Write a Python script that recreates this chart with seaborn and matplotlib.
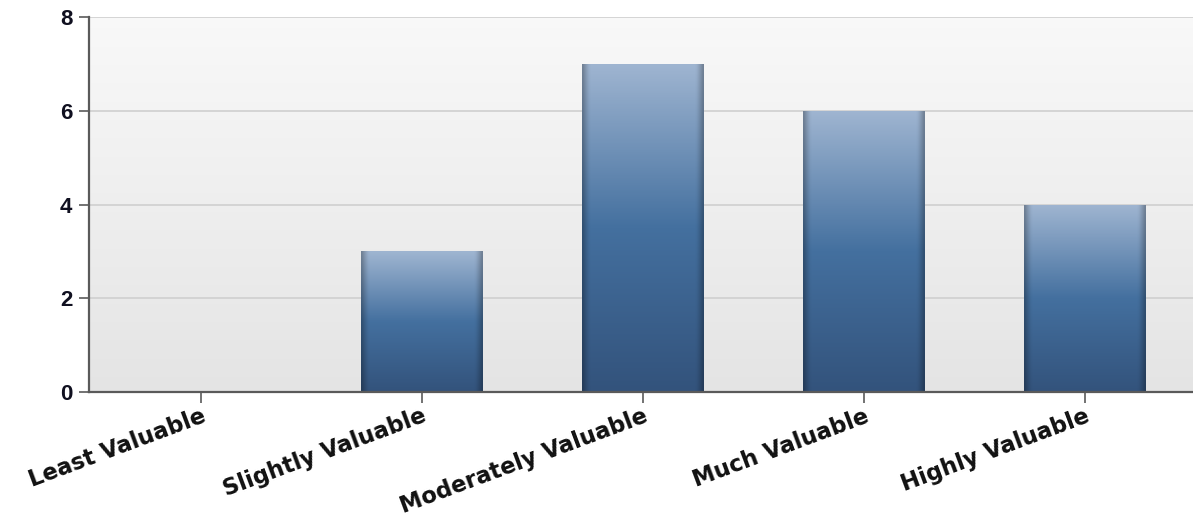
import numpy as np
import pandas as pd
import matplotlib
matplotlib.use("Agg")
import matplotlib.pyplot as plt
import seaborn as sns
from matplotlib.colors import LinearSegmentedColormap

categories = ["Least Valuable", "Slightly Valuable", "Moderately Valuable",
              "Much Valuable", "Highly Valuable"]
counts = [0, 3, 7, 6, 4]
y_ticks = [0, 2, 4, 6, 8]

sns.set_theme(style="white")
plt.rcParams["font.family"] = ["Liberation Sans", "DejaVu Sans"]

fig = plt.figure(figsize=(11.93, 5.25), dpi=100)
ax = fig.add_axes([0.0746, 0.2533, 0.9254, 0.7143])

df = pd.DataFrame({"category": categories, "count": counts})
sns.barplot(data=df, x="category", y="count", ax=ax, width=0.55,
            color="#3f6a9c", edgecolor="none", zorder=3)

# background: soft vertical gradient, light at the top
bg = np.linspace(0.975, 0.895, 256).reshape(-1, 1)
bg_rgb = np.dstack([bg, bg, bg])
ax.imshow(bg_rgb, extent=[0, 1, 0, 1], transform=ax.transAxes,
          aspect="auto", zorder=0, interpolation="bicubic")

# bar fill: vertical blue gradient with darker side edges
vcmap = LinearSegmentedColormap.from_list(
    "barv", [(0.0, "#9fb5d1"), (0.5, "#44709f"), (1.0, "#33537c")])
nh, nw = 200, 60
v = vcmap(np.linspace(0, 1, nh))[:, :3]
xs = np.linspace(-1, 1, nw)
edge = 1.0 - 0.28 * np.clip((np.abs(xs) - 0.88) / 0.12, 0, 1) ** 1.2
img = v[:, None, :] * edge[None, :, None]
for patch in ax.patches:
    x0, y0 = patch.get_x(), patch.get_y()
    w, h = patch.get_width(), patch.get_height()
    if h <= 0:
        continue
    im = ax.imshow(img, extent=[x0, x0 + w, y0, y0 + h], aspect="auto",
                   zorder=3, interpolation="bilinear")
    im.set_clip_path(patch)
    patch.set_facecolor("none")

ax.set_xlim(-0.505, 4.49)
ax.set_ylim(0, 8)

ax.set_yticks(y_ticks)
ax.yaxis.grid(True, color="#cfcfcf", linewidth=1.2, zorder=1)
ax.set_axisbelow(True)
for s in ["top", "right"]:
    ax.spines[s].set_visible(False)
for s in ["left", "bottom"]:
    ax.spines[s].set_color("#5a5a5a")
    ax.spines[s].set_linewidth(1.6)
    ax.spines[s].set_zorder(5)

ax.tick_params(axis="y", length=7, width=1.2, color="#5a5a5a", pad=5,
               labelsize=16, left=True)
ax.tick_params(axis="x", length=8, width=1.2, color="#5a5a5a", pad=1,
               bottom=True)
for lbl in ax.get_yticklabels():
    lbl.set_fontweight("bold")
    lbl.set_color("#101020")
ax.set_xticks(range(len(categories)))
ax.set_xticklabels(categories, rotation=20.5, ha="right",
                   rotation_mode="anchor", fontweight="bold", color="#111111",
                   fontsize=16.3, family=["DejaVu Sans"])
ax.set_xlabel("")
ax.set_ylabel("")

fig.savefig("out.png", dpi=100, facecolor="white")
